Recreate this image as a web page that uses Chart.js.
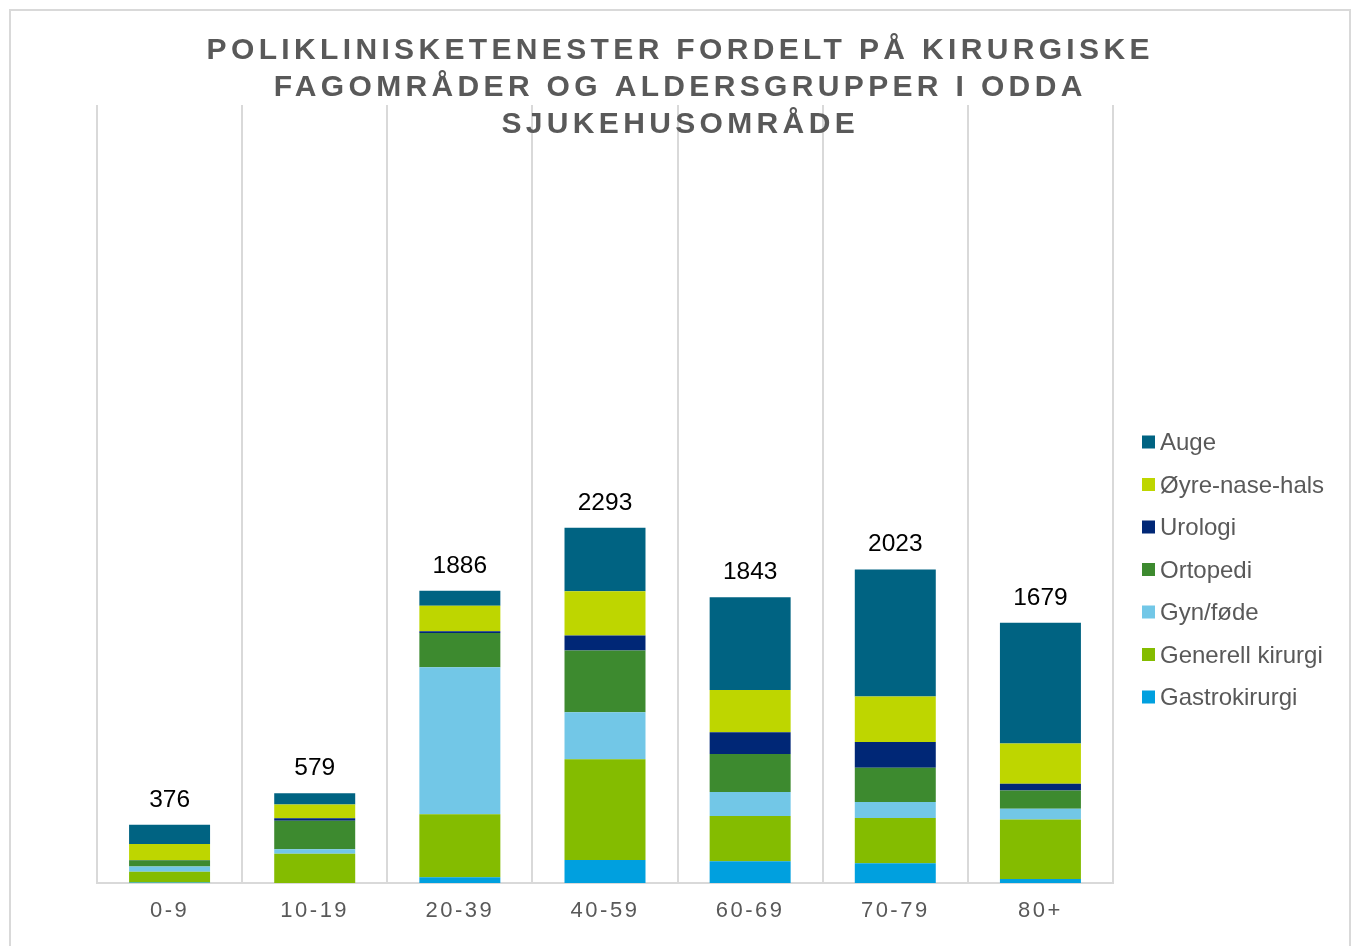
<!DOCTYPE html>
<html>
<head>
<meta charset="utf-8">
<script src="https://cdn.jsdelivr.net/npm/chart.js@4.4.1/dist/chart.umd.min.js"></script>
<style>
  html, body { margin: 0; padding: 0; background: #fff; }
  canvas { display: block; }
</style>
</head>
<body>
<canvas id="myChart" width="1352" height="946"></canvas>
<script>
// age groups
const categories = ['0-9', '10-19', '20-39', '40-59', '60-69', '70-79', '80+'];

// series, bottom to top of the stack
const gastro   = [4, 0, 37, 148, 140, 127, 26];
const generell = [69, 189, 407, 650, 292, 292, 384];
const gyn      = [33, 28, 948, 303, 155, 103, 69];
const ortopedi = [40, 185, 221, 399, 245, 221, 118];
const urologi  = [2, 15, 11, 97, 140, 167, 43];
const oyre     = [104, 90, 165, 285, 274, 293, 260];
const auge     = [124, 72, 97, 411, 597, 820, 779];

const titleLines = [
    'POLIKLINISKETENESTER FORDELT PÅ KIRURGISKE',
    'FAGOMRÅDER OG ALDERSGRUPPER I ODDA',
    'SJUKEHUSOMRÅDE'
];

const FONT = '"Liberation Sans", Arial, sans-serif';
const GREY = '#595959';

const data = {
    labels: categories,
    datasets: [
        { label: 'Gastrokirurgi', data: gastro, backgroundColor: '#00a0df' },
        { label: 'Generell kirurgi', data: generell, backgroundColor: '#84bc00' },
        { label: 'Gyn/føde', data: gyn, backgroundColor: '#72c7e7' },
        { label: 'Ortopedi', data: ortopedi, backgroundColor: '#3d8a2f' },
        { label: 'Urologi', data: urologi, backgroundColor: '#002776' },
        { label: 'Øyre-nase-hals', data: oyre, backgroundColor: '#bed600' },
        { label: 'Auge', data: auge, backgroundColor: '#006382' }
    ]
};

// border, title, totals and legend
const decor = {
    id: 'decor',
    beforeDraw(chart) {
        const ctx = chart.ctx;
        ctx.save();
        ctx.strokeStyle = '#d9d9d9';
        ctx.lineWidth = 2;
        ctx.strokeRect(10, 10, 1340, 960);
        ctx.restore();
        // spaced out tick labels
        ctx.letterSpacing = '2.5px';
    },
    beforeDatasetsDraw(chart) {
        chart.ctx.letterSpacing = '0px';
    },
    afterDraw(chart) {
        const ctx = chart.ctx;
        ctx.save();

        // title
        ctx.fillStyle = GREY;
        ctx.font = 'bold 30px ' + FONT;
        ctx.letterSpacing = '4.35px';
        ctx.textAlign = 'center';
        ctx.textBaseline = 'alphabetic';
        titleLines.forEach(function (line, i) {
            ctx.fillText(line, 678 + 2.2, 59 + i * 37);
        });
        ctx.letterSpacing = '0px';

        // totals above bars
        const x = chart.scales.x, y = chart.scales.y;
        ctx.fillStyle = '#000';
        ctx.font = '24.5px ' + FONT;
        categories.forEach(function (c, i) {
            let total = 0;
            chart.data.datasets.forEach(function (ds) { total += ds.data[i]; });
            ctx.fillText(String(total), x.getPixelForValue(i), y.getPixelForValue(total) - 18);
        });

        // legend, top item is last dataset
        ctx.textAlign = 'left';
        ctx.font = '24px ' + FONT;
        const items = chart.data.datasets.slice().reverse();
        items.forEach(function (ds, i) {
            const cy = 442 + i * 42.5;
            ctx.fillStyle = ds.backgroundColor;
            ctx.fillRect(1142, cy - 6.5, 13, 13);
            ctx.fillStyle = GREY;
            ctx.fillText(ds.label, 1160, cy + 8);
        });
        ctx.restore();
    }
};

const config = {
    type: 'bar',
    data: data,
    options: {
        responsive: false,
        animation: false,
        layout: {
            padding: { left: 97, right: 239, top: 105, bottom: 0 }
        },
        datasets: {
            bar: { categoryPercentage: 1, barPercentage: 0.558 }
        },
        plugins: {
            legend: { display: false },
            title: { display: false },
            tooltip: { enabled: false }
        },
        scales: {
            x: {
                stacked: true,
                afterFit: function (axis) { axis.height = 63; },
                grid: {
                    display: true,
                    color: '#d9d9d9',
                    lineWidth: 2,
                    drawTicks: false
                },
                border: { display: true, color: '#d9d9d9', width: 2 },
                ticks: {
                    color: GREY,
                    padding: 14.5,
                    font: { family: FONT, size: 22 }
                }
            },
            y: {
                stacked: true,
                display: false,
                min: 0,
                max: 5020
            }
        }
    },
    plugins: [decor]
};

var myChart = new Chart(document.getElementById('myChart'), config);
</script>
</body>
</html>
